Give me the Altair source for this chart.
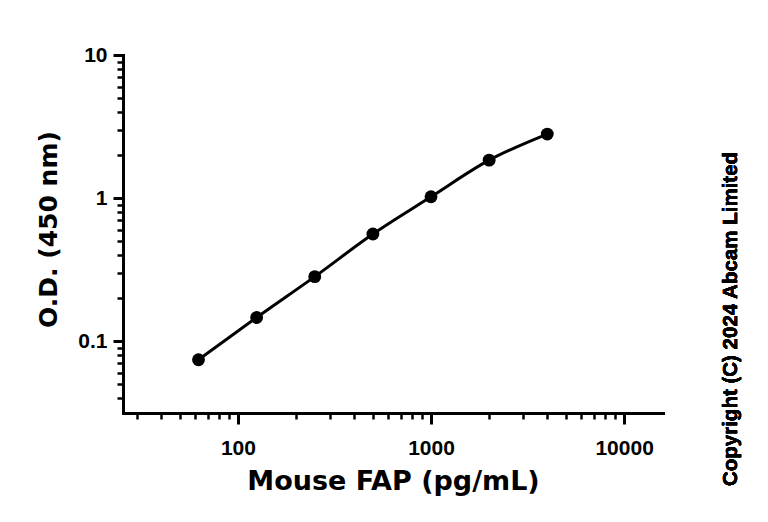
import altair as alt
import pandas as pd

# Standard curve values
concentracao = [62.5, 125, 250, 500, 1000, 2000, 4000]
densidade = [0.074, 0.146, 0.282, 0.56, 1.02, 1.84, 2.80]

x_maior = [100, 1000, 10000]
x_menor = [30, 40, 50, 60, 70, 80, 90,
           200, 300, 400, 500, 600, 700, 800, 900,
           2000, 3000, 4000, 5000, 6000, 7000, 8000, 9000]
y_maior = [0.1, 1, 10]
y_menor = [0.04, 0.05, 0.06, 0.07, 0.08, 0.09,
           0.2, 0.3, 0.4, 0.5, 0.6, 0.7, 0.8, 0.9,
           2, 3, 4, 5, 6, 7, 8, 9]

fonte_arial = "Liberation Sans"

dados = pd.DataFrame({"conc": concentracao, "od": densidade})

escala_x = alt.Scale(type="log", domain=[25.4, 15900], nice=False, zero=False)
escala_y = alt.Scale(type="log", domain=[0.0314, 10], nice=False, zero=False)

eixo_x = alt.Axis(values=x_maior, format="~g", orient="bottom", tickSize=11,
                  labelFont=fonte_arial, labelFontSize=21, labelFontWeight="bold",
                  labelPadding=13, labelBaseline="top",
                  title="Mouse FAP (pg/mL)", titleFont="DejaVu Sans",
                  titleFontSize=27, titleBaseline="alphabetic", titleY=76)
eixo_y = alt.Axis(values=y_maior, format="~g", orient="left", tickSize=10,
                  labelFont=fonte_arial, labelFontSize=21, labelFontWeight="bold",
                  labelPadding=6, title="O.D. (450 nm)",
                  titleFont="DejaVu Sans", titleFontSize=25,
                  titleBaseline="alphabetic", titleX=-67, titleY=174)

eixo_x_menor = alt.Axis(values=x_menor, orient="bottom", labels=False,
                        domain=False, tickSize=6, tickWidth=2.5, title=None)
eixo_y_menor = alt.Axis(values=y_menor, orient="left", labels=False,
                        domain=False, tickSize=6, tickWidth=2.5, title=None)

# Curva suavizada
linha = alt.Chart(dados).mark_line(
    color="black", strokeWidth=3, interpolate="monotone"
).encode(
    x=alt.X("conc:Q", scale=escala_x, axis=eixo_x),
    y=alt.Y("od:Q", scale=escala_y, axis=eixo_y),
)

pontos = alt.Chart(dados).mark_circle(color="black", opacity=1, size=165).encode(
    x=alt.X("conc:Q", scale=escala_x, axis=None),
    y=alt.Y("od:Q", scale=escala_y, axis=None),
)

# Só para desenhar os ticks menores
menores = alt.Chart(dados).mark_point(opacity=0).encode(
    x=alt.X("conc:Q", scale=escala_x, axis=eixo_x_menor),
    y=alt.Y("od:Q", scale=escala_y, axis=eixo_y_menor),
)

copyright = alt.Chart(dados).mark_text(
    text="Copyright (C) 2024 Abcam Limited",
    angle=270, align="center", baseline="alphabetic",
    font=fonte_arial, fontWeight="bold", fontSize=20.5, color="black"
).encode(x=alt.value(614), y=alt.value(264))

chart = alt.layer(linha, pontos, menores, copyright).resolve_axis(
    x="independent", y="independent"
).properties(
    width=540,
    height=358,
    autosize=alt.AutoSizeParams(type="none"),
    padding={"left": 115, "top": 47, "right": 97, "bottom": 101},
    background="white",
).configure_axis(
    grid=False,
    domainColor="black",
    domainWidth=3,
    domainCap="square",
    tickColor="black",
    tickWidth=3,
    labelColor="black",
    titleFontWeight="bold",
    titleColor="black",
).configure_view(
    stroke=None
)

chart.save("out.html", embed_options={"renderer": "svg", "actions": False})
